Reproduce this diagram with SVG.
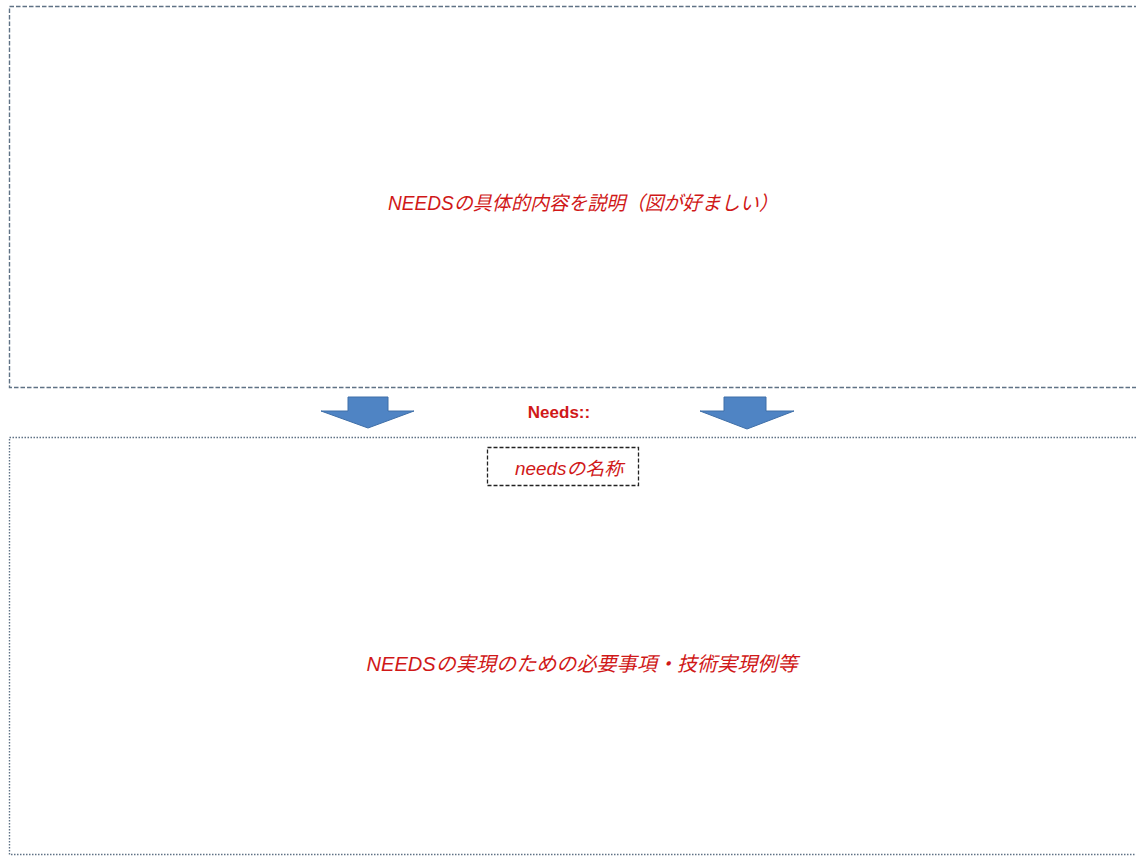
<svg xmlns="http://www.w3.org/2000/svg" width="1136" height="856" viewBox="0 0 1136 856">
<style>
.red{fill:#d01818;font-family:"Liberation Sans","Noto Sans CJK JP",sans-serif}
.it{font-style:italic}
.arrow{fill:#4f84c4;stroke:#3f6fa8;stroke-width:1}
</style>
<rect width="1136" height="856" fill="#ffffff"/>
<g id="box-top">
<rect x="9.5" y="6.5" width="1140" height="381" fill="none" stroke="#5f7285" stroke-width="1.4" stroke-dasharray="4.5,2"/>
<text class="red it" x="583" y="210" font-size="19.5" text-anchor="middle" textLength="390" lengthAdjust="spacingAndGlyphs">NEEDSの具体的内容を説明（図が好ましい）</text>
</g>
<g id="connectors">
<path class="arrow" d="M348,397 H388 V411 H414 L368,428 L321,411 H348 Z"/>
<path class="arrow" d="M724,397 H766 V411 H794 L747,429 L700,411 H724 Z"/>
</g>
<g id="label-needs">
<text class="red" x="559" y="418" font-size="17" font-weight="bold" text-anchor="middle">Needs::</text>
</g>
<g id="box-bottom">
<rect x="9.5" y="437.5" width="1140" height="417" fill="none" stroke="#5f7285" stroke-width="1.4" stroke-dasharray="1.5,1.5"/>
<text class="red it" x="582" y="671" font-size="20" text-anchor="middle" textLength="431" lengthAdjust="spacingAndGlyphs">NEEDSの実現のための必要事項・技術実現例等</text>
</g>
<g id="name-box">
<rect x="487.5" y="447.5" width="151" height="38" fill="#ffffff" stroke="#222" stroke-width="1.3" stroke-dasharray="4,2"/>
<text class="red it" x="569" y="475" font-size="18" text-anchor="middle" textLength="108" lengthAdjust="spacingAndGlyphs">needsの名称</text>
</g>
</svg>
